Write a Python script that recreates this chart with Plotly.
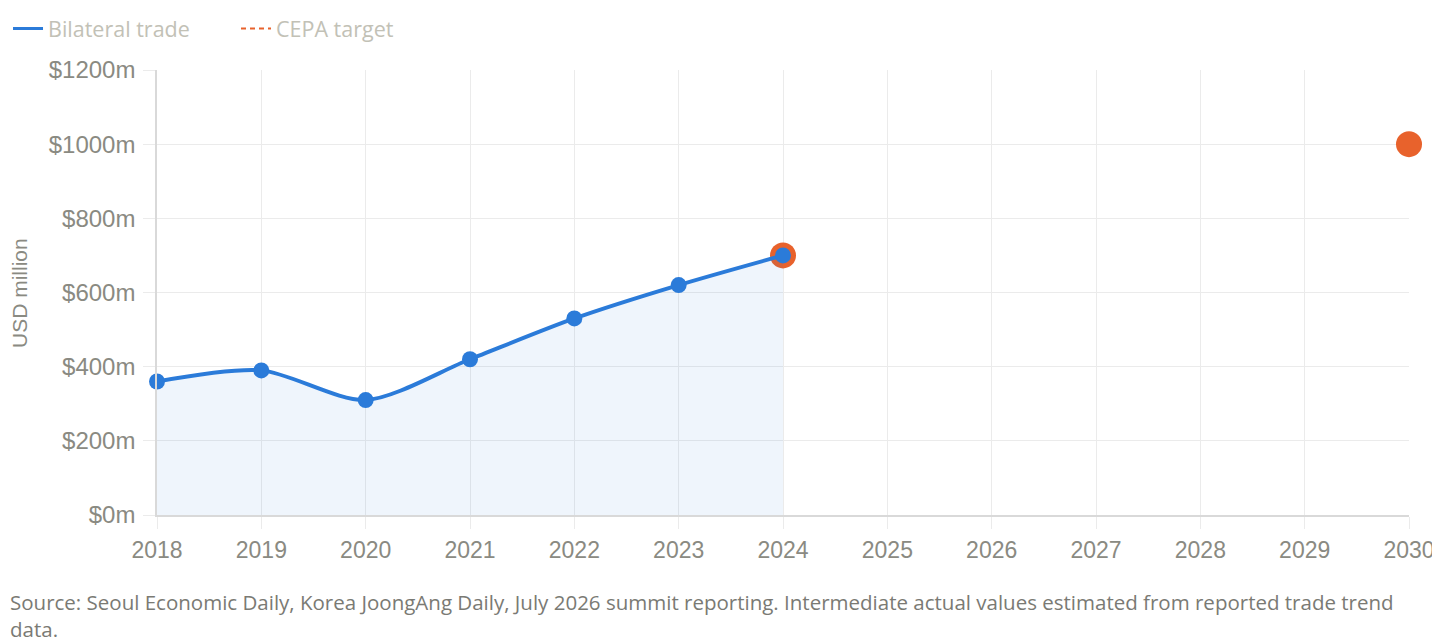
import plotly.graph_objs as go

# Bilateral trade (USD million), actual values 2018-2024
years = [2018, 2019, 2020, 2021, 2022, 2023, 2024, 2025, 2026, 2027, 2028, 2029, 2030]
trade = [360, 390, 310, 420, 530, 620, 700, None, None, None, None, None, None]
# CEPA target: 2024 starting point and 2030 goal
cepa_target = [None, None, None, None, None, None, 700, None, None, None, None, None, 1000]

y_ticks = [0, 200, 400, 600, 800, 1000, 1200]
y_tick_labels = ['$%dm' % v for v in y_ticks]

BLUE = '#2b7bd9'
ORANGE = '#e8622c'
GREY = '#8a8a82'

fig = go.Figure()

# CEPA target points (no line across the gap)
fig.add_trace(go.Scatter(x=years, y=cepa_target, mode='lines+markers', name='CEPA target',
                         line=dict(color=ORANGE, width=2, dash='dash'),
                         marker=dict(color=ORANGE, size=26),
                         connectgaps=False, cliponaxis=False, showlegend=False))

# Bilateral trade line with fill
fig.add_trace(go.Scatter(x=years, y=trade, mode='lines+markers', name='Bilateral trade',
                         line=dict(color=BLUE, width=4, shape='spline', smoothing=0.8),
                         marker=dict(color=BLUE, size=16),
                         fill='tozeroy', fillcolor='rgba(43,123,217,0.075)',
                         connectgaps=False, cliponaxis=False, showlegend=False))

# Legend entries (line-only symbols)
fig.add_trace(go.Scatter(x=[None], y=[None], mode='lines', name='Bilateral trade',
                         line=dict(color=BLUE, width=3)))
fig.add_trace(go.Scatter(x=[None], y=[None], mode='lines', name='CEPA target',
                         line=dict(color=ORANGE, width=2, dash='5px,4px')))

# page body has an 8px margin, so the figure is offset to compensate
fig.update_layout(
    width=1432, height=634,
    template='plotly_white',
    plot_bgcolor='white', paper_bgcolor='white',
    margin=dict(l=149, r=31, t=62, b=127, autoexpand=False),
    showlegend=True,
    legend=dict(orientation='h', x=-0.119, xanchor='left', y=1.139, yanchor='top',
                font=dict(family='Open Sans', size=21.5, color='#c2c1b6'),
                entrywidth=183, entrywidthmode='pixels', itemwidth=30),
    xaxis=dict(range=[2018, 2030], tickmode='array', tickvals=years, ticktext=[str(y) for y in years],
               showgrid=True, gridcolor='#ebebeb', gridwidth=1,
               showline=True, linecolor='#d9d9d9', linewidth=1.5,
               ticks='outside', ticklen=12, tickcolor='#ebebeb', ticklabelstandoff=2,
               tickfont=dict(family='Liberation Sans, Arial', size=23, color=GREY),
               zeroline=False, fixedrange=True),
    yaxis=dict(range=[0, 1200], tickmode='array', tickvals=y_ticks, ticktext=y_tick_labels,
               showgrid=True, gridcolor='#ebebeb', gridwidth=1,
               showline=True, linecolor='#d9d9d9', linewidth=1.5,
               ticks='outside', ticklen=12, tickcolor='#ebebeb', ticklabelstandoff=3,
               tickfont=dict(family='Liberation Sans, Arial', size=24, color=GREY),
               zeroline=False, fixedrange=True),
    annotations=[
        dict(text='USD million', textangle=-90, xref='paper', yref='paper',
             x=-0.1094, y=0.499, xanchor='center', yanchor='middle', showarrow=False,
             font=dict(family='Liberation Sans, Arial', size=21, color=GREY)),
        dict(text='Source: Seoul Economic Daily, Korea JoongAng Daily, July 2026 summit reporting. '
                  'Intermediate actual values estimated from reported trade trend<br>data.',
             xref='paper', yref='paper', x=-0.119, y=-0.16, xanchor='left', yanchor='top',
             align='left', showarrow=False,
             font=dict(family='Open Sans', size=20.5, color='#7a7a74')),
    ],
)

fig.write_html('out.html')
